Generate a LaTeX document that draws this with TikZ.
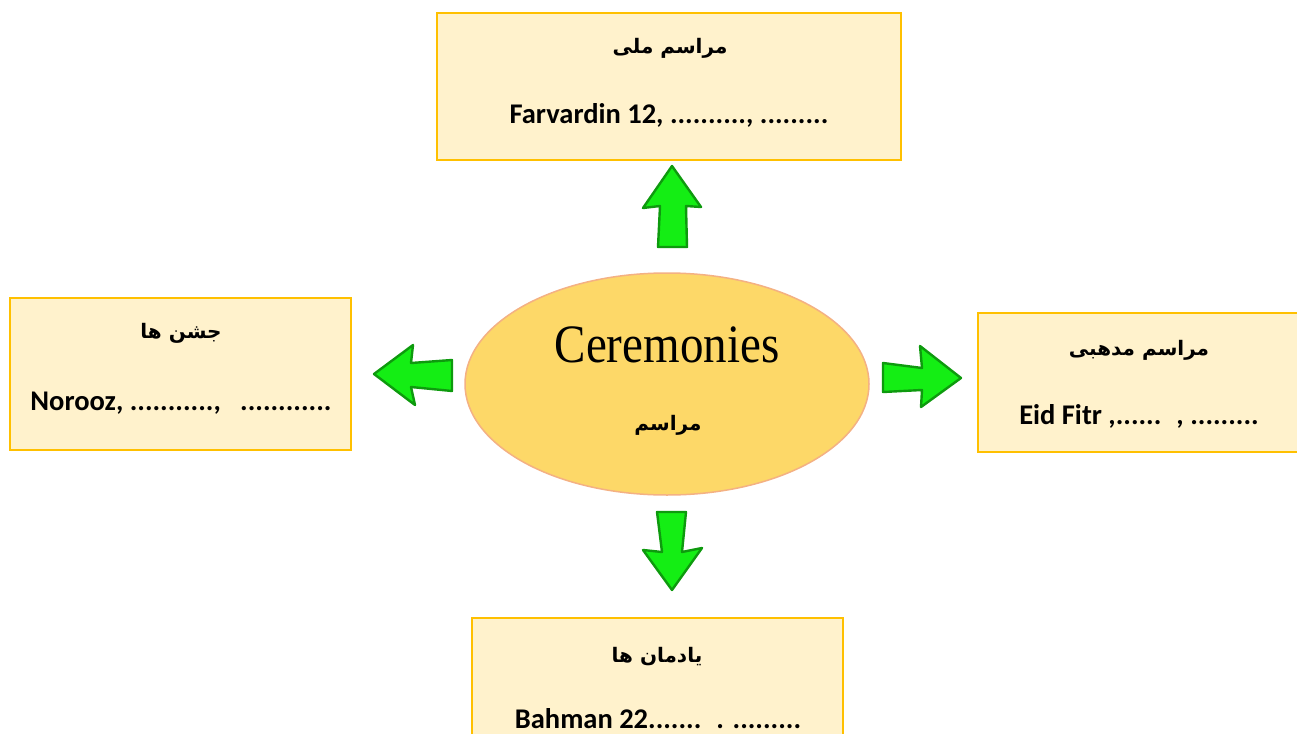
\documentclass[tikz,border=0pt]{standalone}
\usepackage{fontspec}
\setmainfont{Liberation Serif}
\newfontfamily\lat{Carlito}
\newfontfamily\fa[Script=Arabic]{DejaVu Sans}
\TeXXeTstate=1
\usetikzlibrary{shapes.geometric}
\definecolor{boxfill}{HTML}{FFF2CC}
\definecolor{boxline}{HTML}{FFC000}
\definecolor{ellfill}{HTML}{FDD868}
\definecolor{ellline}{HTML}{F4B183}
\definecolor{arrfill}{HTML}{14EE14}
\definecolor{arrline}{HTML}{0E9A0E}
\tikzset{
  catbox/.style={draw=boxline, fill=boxfill, line width=2.5pt, rectangle, inner sep=0pt},
  fatitle/.style={font=\fa\bfseries\fontsize{20}{24}\selectfont, inner sep=0pt},
  latline/.style={font=\lat\bfseries\fontsize{28.5}{32}\selectfont, inner sep=0pt, anchor=base},
  blockarrow/.style={fill=arrfill, draw=arrline, line width=2.4pt, line join=round},
}
\begin{document}
\begin{tikzpicture}[x=1pt,y=-1pt]
\useasboundingbox (0,0) rectangle (1297,733);
\clip (0,0) rectangle (1297,733);
\fill[white] (0,0) rectangle (1297,733);

% category boxes
\node[catbox, minimum width=464pt, minimum height=147pt] (top) at (669,86.5) {};
\node[catbox, minimum width=341pt, minimum height=152pt] (left) at (180.5,374) {};
\node[catbox, minimum width=332pt, minimum height=139pt] (right) at (1144,382.5) {};
\node[catbox, minimum width=371pt, minimum height=142pt] (bottom) at (657.5,689) {};

% central ellipse
\node[ellipse, draw=ellline, fill=ellfill, line width=1.5pt, minimum width=404pt, minimum height=222pt, inner sep=0pt] (center) at (667,384) {};
\node[font=\fontsize{47}{54}\selectfont, anchor=base, inner sep=0pt, yscale=1.15] (cer) at (667,362) {Ceremonies};
\node[fatitle] (mar) at (668,425) {\beginR مراسم\endR};

% texts in boxes
\node[fatitle] (toptitle) at (670,48) {\beginR مراسم ملی\endR};
\node[latline] (toptext) at (669,124) {Farvardin 12, .........., .........};

\node[fatitle] (lefttitle) at (181,333) {\beginR جشن ها\endR};
\node[latline] (lefttext) at (181,410) {Norooz, ...........,\ \ \ ............};

\node[fatitle] (righttitle) at (1139,350) {\beginR مراسم مدهبی\endR};
\node[latline] (righttext) at (1139,424) {Eid Fitr ,...... \ , .........};

\node[fatitle] (bottomtitle) at (657,657) {\beginR یادمان ها\endR};
\node[latline] (bottomtext) at (658,728) {Bahman 22....... \ . .........};

% block arrows
\draw[blockarrow] (658,247) -- (660,206) -- (643,208) -- (672,166) -- (701,207) -- (686,206) -- (687,247) -- cycle;
\draw[blockarrow] (452,360) -- (411,363) -- (413,345) -- (374,374) -- (415,405) -- (411,387) -- (452,391) -- cycle;
\draw[blockarrow] (883,363) -- (922,368) -- (920,346) -- (961,378) -- (921,407) -- (922,390) -- (883,392) -- cycle;
\draw[blockarrow] (657,512) -- (686,512) -- (682,552) -- (702,548) -- (672,590) -- (643,550) -- (662,552) -- cycle;
\end{tikzpicture}
\end{document}
